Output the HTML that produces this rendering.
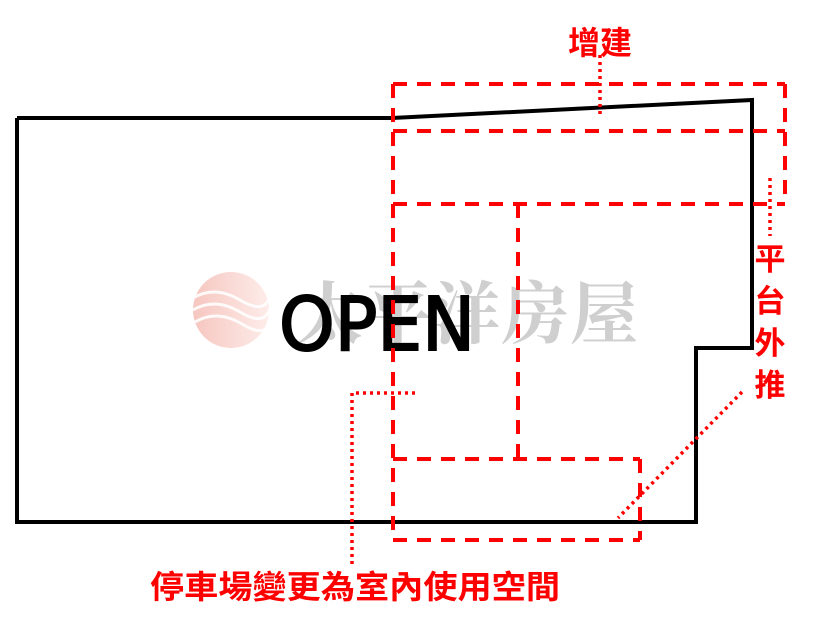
<!DOCTYPE html>
<html><head><meta charset="utf-8"><style>
html,body{margin:0;padding:0;background:#fff;}
svg{display:block;}
</style></head><body>
<svg width="830" height="624" viewBox="0 0 830 624" xmlns="http://www.w3.org/2000/svg">
<defs>
<linearGradient id="g" x1="0" y1="0" x2="1" y2="0">
<stop offset="0" stop-color="#f4b8b0"/><stop offset="1" stop-color="#fde8e4"/>
</linearGradient>
</defs>
<circle cx="231" cy="310" r="38" fill="url(#g)" opacity="0.8"/>
<g stroke="#fff" stroke-width="3" fill="none" opacity="0.9">
<path d="M193 298 Q215 285 240 300 T270 296"/>
<path d="M193 310 Q215 297 240 312 T270 308"/>
<path d="M195 322 Q217 309 242 324 T270 320"/>
</g>
<text x="295" y="338" font-family="'Noto Serif CJK SC','WenQuanYi Zen Hei',serif" font-size="68" fill="#cfcfcf" font-weight="bold" textLength="343">太平洋房屋</text>
<polyline points="17,118 392,118 752,100 752,348 696,348 696,522 17,522 17,118" fill="none" stroke="#000" stroke-width="4" stroke-linejoin="miter"/>
<text x="279" y="350" font-family="'DejaVu Sans','Liberation Sans',sans-serif" font-size="74" fill="#000" stroke="#000" stroke-width="2" textLength="196" lengthAdjust="spacingAndGlyphs">OPEN</text>
<g stroke="#f00" stroke-width="4" fill="none" stroke-dasharray="14 10">
<line x1="393" y1="84" x2="785" y2="84"/>
<line x1="785" y1="84" x2="785" y2="204"/>
<line x1="393" y1="84" x2="393" y2="540"/>
<line x1="393" y1="131" x2="785" y2="131"/>
<line x1="393" y1="204" x2="785" y2="204"/>
<line x1="518" y1="204" x2="518" y2="459"/>
<line x1="393" y1="459" x2="640" y2="459"/>
<line x1="640" y1="459" x2="640" y2="540"/>
<line x1="393" y1="540" x2="640" y2="540"/>
</g>
<g stroke="#f00" stroke-width="3.5" fill="none" stroke-dasharray="3 4">
<line x1="600" y1="55" x2="600" y2="118"/>
<line x1="770" y1="178" x2="770" y2="236"/>
<line x1="742" y1="392" x2="618" y2="518"/>
<polyline points="415,393 352,393 352,566"/>
</g>
<g font-family="'Noto Sans CJK TC',sans-serif" fill="#f00" font-weight="bold">
<text x="600" y="54" font-size="32" text-anchor="middle">增建</text>
<text x="770" y="270" font-size="31" text-anchor="middle">平</text>
<text x="770" y="312" font-size="31" text-anchor="middle">台</text>
<text x="770" y="354" font-size="31" text-anchor="middle">外</text>
<text x="770" y="396" font-size="31" text-anchor="middle">推</text>
<text x="150" y="598" font-size="32" textLength="410" lengthAdjust="spacingAndGlyphs">停車場變更為室內使用空間</text>
</g>
</svg>
</body></html>
